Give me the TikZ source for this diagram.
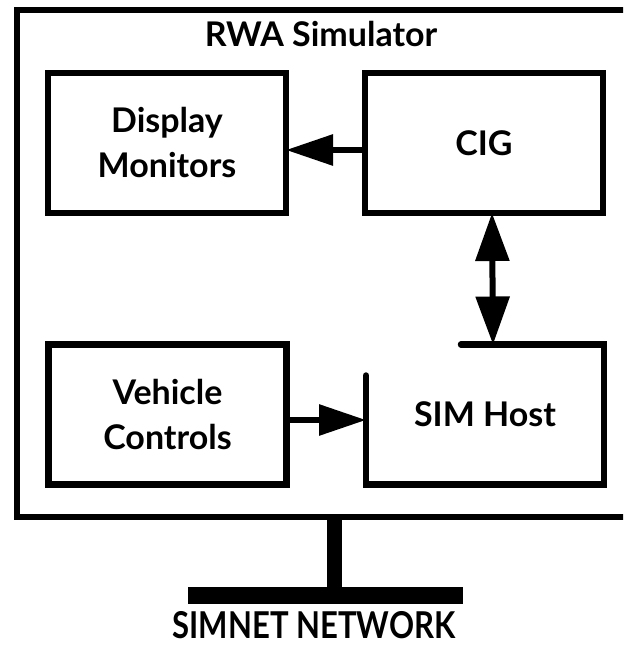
\documentclass[tikz,border=0pt]{standalone}
\usepackage{fontspec}
\setmainfont{Lato}
\usetikzlibrary{arrows.meta, positioning}

\tikzset{
  unit/.style={draw, line width=6.5pt, minimum width=238pt, minimum height=140pt,
    outer sep=0pt, align=center, font=\bfseries\fontsize{34}{45}\selectfont},
  flow/.style={line width=6pt, -{Triangle[length=47pt,width=30pt]}},
  twoway/.style={line width=6pt,
    {Triangle[length=48pt,width=33pt]}-{Triangle[length=48pt,width=33pt]}}
}

\begin{document}
\begin{tikzpicture}[x=1pt,y=-1pt]
    \useasboundingbox (0,0) rectangle (623,647);
    \clip (0,0) rectangle (623,647);
    \fill[white] (0,0) rectangle (623,647);

    \node[draw, line width=6.5pt, outer sep=0pt, minimum width=614pt,
          minimum height=507pt] (rwa) at (324,263.5) {};
    \node[anchor=base, font=\bfseries\fontsize{34}{38}\selectfont] (title) at (321,47) {RWA Simulator};

    \node[unit] (disp) at (167,143) {Display\\Monitors};
    \node[unit] (cig) at (484,143) {CIG};
    \node[unit] (veh) at (167.5,414.5) {Vehicle\\Controls};
    \node[unit, draw=none] (host) at (485,414.5) {SIM Host};
    \draw[line width=6.5pt, line cap=round]
        ([xshift=95pt]host.north west) -- (host.north east) -- (host.south east)
        -- (host.south west) -- ([yshift=-31pt]host.north west);

    \draw[flow] ([yshift=-7pt]cig.west) -- ([yshift=-7pt]disp.east);
    \draw[twoway] ([xshift=8pt]cig.south) -- ([xshift=8pt]host.north);
    \draw[flow] ([yshift=-5.5pt]veh.east) -- ([yshift=-5.5pt]host.west);

    \node[fill, minimum width=275pt, minimum height=17pt, inner sep=0pt] (lan) at (325,595.5) {};
    \draw[line width=15pt] ([xshift=9pt]lan.center) -- ([xshift=9pt]lan.center |- rwa.south);
    \node[anchor=base, font=\bfseries\fontsize{37}{40}\selectfont] (netname) at (314,638)
        {\scalebox{0.84}[1]{SIMNET NETWORK}};
\end{tikzpicture}
\end{document}
